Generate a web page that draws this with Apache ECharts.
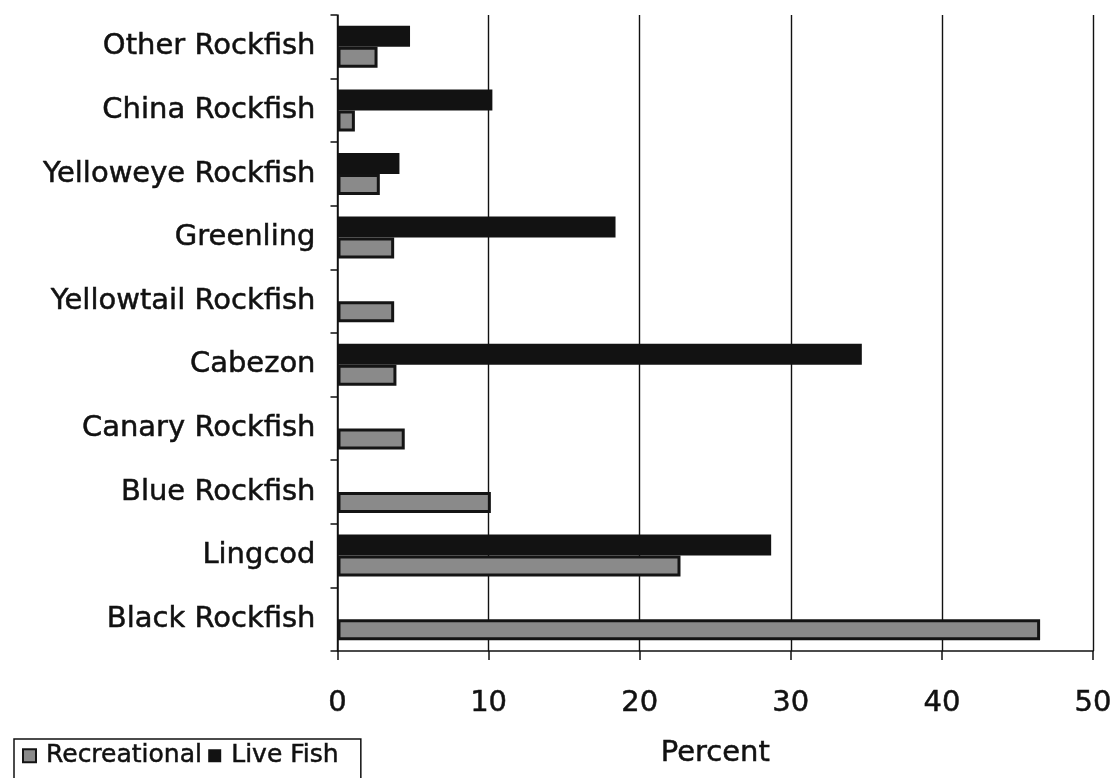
<!DOCTYPE html>
<html>
<head>
<meta charset="utf-8">
<script src="https://cdn.jsdelivr.net/npm/echarts@6/dist/echarts.min.js"></script>
<style>
  html, body { margin: 0; padding: 0; background: #fff; }
  #chart { width: 1116px; height: 778px; }
</style>
</head>
<body>
<div id="chart"></div>
<script>
// Species, listed top to bottom
const categories = [
  'Other Rockfish', 'China Rockfish', 'Yelloweye Rockfish', 'Greenling',
  'Yellowtail Rockfish', 'Cabezon', 'Canary Rockfish', 'Blue Rockfish',
  'Lingcod', 'Black Rockfish'
];
// Share of catch (percent) by fishery; null = no catch recorded
const liveFish = [4.8, 10.25, 4.1, 18.4, null, 34.7, null, null, 28.7, null];
const recreational = [2.65, 1.15, 2.8, 3.75, 3.75, 3.9, 4.45, 10.15, 22.7, 46.5];
const percentTicks = [0, 10, 20, 30, 40, 50];

const FONT = 'DejaVu Sans';
const INK = '#111';
// a hairline outline in the text colour gives the heavier print weight
const heavy = { textBorderColor: INK, textBorderWidth: 0.5 };

const chart = echarts.init(document.getElementById('chart'), null, { renderer: 'canvas' });

chart.setOption({
  backgroundColor: '#fff',
  animation: false,
  textStyle: { fontFamily: FONT, color: INK },
  grid: { left: 337.5, right: 23, top: 15, bottom: 127, containLabel: false },
  legend: {
    data: ['Recreational', 'Live Fish'],
    left: 14,
    top: 739,
    orient: 'horizontal',
    icon: 'rect',
    itemWidth: 13,
    itemHeight: 13,
    itemGap: 6,
    padding: [4, 22, 30, 8],
    borderColor: INK,
    borderWidth: 1.5,
    textStyle: Object.assign({ fontFamily: FONT, fontSize: 25, color: INK, padding: [0, 0, 0, 5] }, heavy)
  },
  xAxis: {
    type: 'value',
    min: percentTicks[0],
    max: percentTicks[percentTicks.length - 1],
    interval: 10,
    name: 'Percent',
    nameLocation: 'middle',
    nameGap: 88,
    nameTextStyle: Object.assign({ fontFamily: FONT, fontSize: 29, color: INK }, heavy),
    axisLine: { show: true, lineStyle: { color: INK, width: 1.5 } },
    axisTick: { show: true, length: 9, lineStyle: { color: INK, width: 1.5 } },
    axisLabel: Object.assign({ fontFamily: FONT, fontSize: 29, color: INK, margin: 38 }, heavy),
    splitLine: { show: true, lineStyle: { color: INK, width: 1.4 } }
  },
  yAxis: {
    type: 'category',
    data: categories,
    inverse: true,
    axisLine: { show: true, lineStyle: { color: INK, width: 1.5 } },
    axisTick: { show: true, length: 7, alignWithLabel: false, lineStyle: { color: INK, width: 1.5 } },
    axisLabel: Object.assign({ fontFamily: FONT, fontSize: 29, color: INK, margin: 22, padding: [5, 0, 0, 0] }, heavy),
    splitLine: { show: false }
  },
  series: [
    {
      name: 'Live Fish',
      type: 'bar',
      data: liveFish,
      barWidth: 21,
      barGap: '0%',
      itemStyle: { color: '#121212' }
    },
    {
      name: 'Recreational',
      type: 'bar',
      data: recreational,
      barWidth: 21,
      barGap: '0%',
      itemStyle: { color: '#8a8a8a', borderColor: '#141414', borderWidth: 3 }
    }
  ]
});
</script>
</body>
</html>
